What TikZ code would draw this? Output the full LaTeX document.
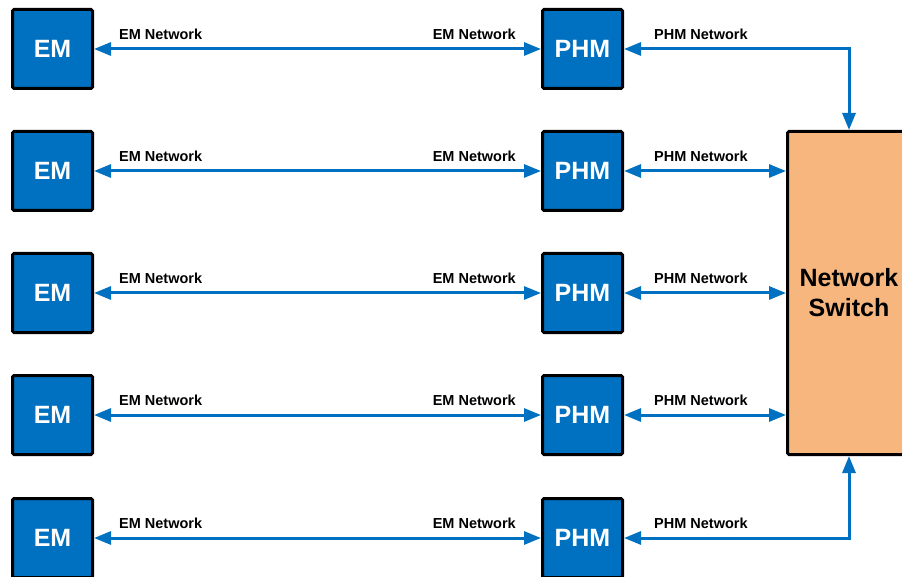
\documentclass[tikz,border=0pt]{standalone}
\usepackage{fontspec}
\setmainfont{Liberation Sans}
\usetikzlibrary{arrows.meta,positioning,calc}
\definecolor{boxblue}{HTML}{0070C0}
\definecolor{swfill}{HTML}{F8B67F}

\begin{document}
\begin{tikzpicture}[x=1pt,y=-1pt,>={Triangle[length=17pt,width=13pt]},
    unit/.style={draw=black,line width=3pt,rounded corners=1.5pt,fill=boxblue,text=white,font=\bfseries\fontsize{25}{30}\selectfont,minimum width=80pt,minimum height=79pt,inner sep=0pt},
    link/.style={<->,draw=boxblue,line width=3pt},
    lbl/.style={font=\bfseries\fontsize{14.5}{16}\selectfont,inner sep=0pt}]
    \useasboundingbox (0,0) rectangle (902,577);
    \node[unit,fill=swfill,text=black,align=center,minimum width=123pt,minimum height=323pt] (sw) at (849,293) {Network\\Switch};
    \foreach \i/\y in {1/49,2/171,3/293,4/415,5/538} {
      \node[unit] (em\i) at (52.5,\y) {EM};
      \node[unit] (phm\i) at (582.5,\y) {PHM};
      \draw[link] (em\i.east) -- (phm\i.west);
      \node[lbl,anchor=west] (ema\i) at ($(em\i.east)+(25,-15)$) {EM Network};
      \node[lbl,anchor=east] (emb\i) at ($(phm\i.west)+(-25,-15)$) {EM Network};
      \node[lbl,anchor=west] (phl\i) at ($(phm\i.east)+(30,-15)$) {PHM Network};
    }
    \draw[link] (phm1.east) -- (phm1.east -| sw.north) -- (sw.north);
    \foreach \i in {2,3,4}
      \draw[link] (phm\i.east) -- (phm\i.east -| sw.west);
    \draw[link] (phm5.east) -- (phm5.east -| sw.south) -- (sw.south);
  \end{tikzpicture}
\end{document}
